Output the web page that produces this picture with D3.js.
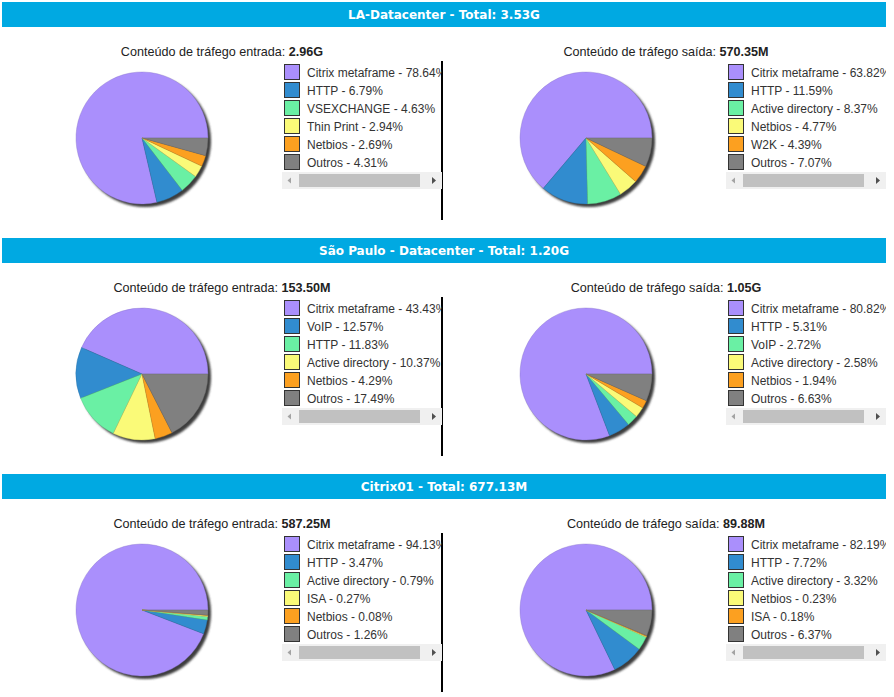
<!DOCTYPE html>
<html><head><meta charset="utf-8">
<script src="https://cdn.jsdelivr.net/npm/d3@7"></script>
<style>body{margin:0;background:#fff;}svg{display:block;}</style>
</head><body>
<svg id="c" width="894" height="697"></svg>
<script>
// ---- data ----
const sectionTitles = ["LA-Datacenter - Total: 3.53G", "São Paulo - Datacenter - Total: 1.20G", "Citrix01 - Total: 677.13M"];
const inTotals = ["2.96G", "153.50M", "587.25M"];
const outTotals = ["570.35M", "1.05G", "89.88M"];

const laInNames = ["Citrix metaframe", "HTTP", "VSEXCHANGE", "Thin Print", "Netbios", "Outros"];
const laInValues = [78.64, 6.79, 4.63, 2.94, 2.69, 4.31];
const laOutNames = ["Citrix metaframe", "HTTP", "Active directory", "Netbios", "W2K", "Outros"];
const laOutValues = [63.82, 11.59, 8.37, 4.77, 4.39, 7.07];

const spInNames = ["Citrix metaframe", "VoIP", "HTTP", "Active directory", "Netbios", "Outros"];
const spInValues = [43.43, 12.57, 11.83, 10.37, 4.29, 17.49];
const spOutNames = ["Citrix metaframe", "HTTP", "VoIP", "Active directory", "Netbios", "Outros"];
const spOutValues = [80.82, 5.31, 2.72, 2.58, 1.94, 6.63];

const cxInNames = ["Citrix metaframe", "HTTP", "Active directory", "ISA", "Netbios", "Outros"];
const cxInValues = [94.13, 3.47, 0.79, 0.27, 0.08, 1.26];
const cxOutNames = ["Citrix metaframe", "HTTP", "Active directory", "Netbios", "ISA", "Outros"];
const cxOutValues = [82.19, 7.72, 3.32, 0.23, 0.18, 6.37];

const sliceColors = ["#aa8ffc", "#318ccf", "#6af0a4", "#fafa78", "#fca020", "#808080"];

const panels = [
  [{names: laInNames, values: laInValues, label: "entrada", total: inTotals[0]},
   {names: laOutNames, values: laOutValues, label: "saída", total: outTotals[0]}],
  [{names: spInNames, values: spInValues, label: "entrada", total: inTotals[1]},
   {names: spOutNames, values: spOutValues, label: "saída", total: outTotals[1]}],
  [{names: cxInNames, values: cxInValues, label: "entrada", total: inTotals[2]},
   {names: cxOutNames, values: cxOutValues, label: "saída", total: outTotals[2]}]
];

// ---- drawing ----
const svg = d3.select("#c");
const defs = svg.append("defs");
defs.append("filter").attr("id","sh").attr("x","-10%").attr("y","-10%").attr("width","130%").attr("height","130%")
  .append("feGaussianBlur").attr("stdDeviation", 0.8);

const R = 66;
const pie = d3.pie().sort(null).value(d => d).startAngle(Math.PI/2).endAngle(Math.PI/2 - 2*Math.PI);
const arc = d3.arc().innerRadius(0).outerRadius(R);
const color = d3.scaleOrdinal().domain(d3.range(6)).range(sliceColors);

sectionTitles.forEach((title, s) => {
  const oy = s * 236;
  const g = svg.append("g").attr("transform", `translate(0,${oy})`);
  g.append("rect").attr("x", 2).attr("y", 2).attr("width", 884).attr("height", 25).attr("fill", "#00a9e2");
  g.append("text").attr("x", 444).attr("y", 19).attr("text-anchor", "middle")
    .attr("fill", "#fff").attr("font-family", "DejaVu Sans").attr("font-weight", "bold")
    .attr("font-size", "12px").text(title);

  // divider line
  g.append("rect").attr("x", 441).attr("y", 61).attr("width", 2).attr("height", 159).attr("fill", "#000");

  panels[s].forEach((p, k) => {
    const ox = k * 444;
    const pg = g.append("g").attr("transform", `translate(${ox},0)`);
    const st = pg.append("text").attr("x", 222).attr("y", 56).attr("text-anchor", "middle")
      .attr("font-family", "Liberation Sans, Arial").attr("font-size", "12.6px").attr("fill", "#222");
    st.append("tspan").text(`Conteúdo de tráfego ${p.label}: `);
    st.append("tspan").attr("font-weight", "bold").text(p.total);

    const cx = 142, cy = 138;
    pg.append("circle").attr("cx", cx + 3).attr("cy", cy + 3).attr("r", R)
      .attr("fill", "#3c3c3c").attr("filter", "url(#sh)");
    const pgC = pg.append("g").attr("transform", `translate(${cx},${cy})`);
    pgC.selectAll("path").data(pie(p.values)).join("path")
      .attr("d", arc).attr("fill", (d, i) => color(i))
      .attr("stroke", (d, i) => d3.color(color(i)).darker(0.6)).attr("stroke-width", 0.4);

    // legend with clipping
    const clipId = `clip${s}_${k}`;
    defs.append("clipPath").attr("id", clipId).append("rect")
      .attr("x", ox + 282).attr("y", oy + 60).attr("width", 160).attr("height", 135);
    const lgc = svg.append("g").attr("clip-path", `url(#${clipId})`).append("g").attr("transform", `translate(${ox},${oy})`);
    const rows = lgc.selectAll("g.row").data(p.names).join("g").attr("class","row")
      .attr("transform", (d, i) => `translate(284,${64 + i * 18})`);
    rows.append("rect").attr("x", 0.5).attr("y", 0.5).attr("width", 15).attr("height", 15)
      .attr("fill", (d, i) => color(i)).attr("stroke", "#333").attr("stroke-width", 1);
    rows.append("text").attr("x", 23).attr("y", 12.5)
      .attr("font-family", "Liberation Sans, Arial").attr("font-size", "12px").attr("fill", "#333")
      .text((d, i) => `${d} - ${p.values[i].toFixed(2)}%`);

    // scrollbar
    lgc.append("rect").attr("x", 282).attr("y", 172).attr("width", 160).attr("height", 17).attr("fill", "#f0f0f0");
    lgc.append("rect").attr("x", 299).attr("y", 174).attr("width", 121).attr("height", 13).attr("fill", "#c1c1c1");
    lgc.append("path").attr("d", "M291,177.5 L287.5,180.5 L291,183.5 Z").attr("fill", "#a3a3a3");
    lgc.append("path").attr("d", "M432,177 L436,180.5 L432,184 Z").attr("fill", "#505050");
  });
});
</script>
</body></html>
